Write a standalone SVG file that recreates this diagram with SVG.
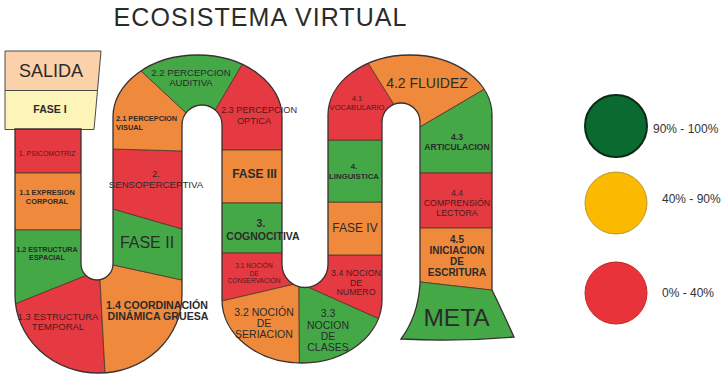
<svg xmlns="http://www.w3.org/2000/svg" width="723" height="376" viewBox="0 0 723 376">
<style>
  .r{fill:#e53a42}
  .o{fill:#ef8a3c}
  .g{fill:#44a847}
  .seg polygon{stroke:#5b3b2b;stroke-width:0.9;stroke-linejoin:round}
  text{font-family:"Liberation Sans",Arial,Helvetica,sans-serif;text-anchor:middle;fill:#2b2b2b}
  .b{font-weight:bold}
  .m{fill:#4d1b1e}
  .lg{text-anchor:start;font-size:12px;fill:#333}
</style>
<defs>
  <path id="bandShape" d="M15,129 L15,295 A83.5,78 0 0 0 182,295 L182,125 A20,20 0 0 1 222,125 L222,300 A80,63 0 0 0 382,300 L382,122 A19,19 0 0 1 420,122 L420,284 Q418,316 401,339 Q458,342 514,337 Q499,304 492,290 L492,115 A82,60 0 0 0 328,115 L328,264.5 A23,23 0 0 1 282,264.5 L282,117 A84.5,62 0 0 0 113,117 L113,264 A16,16 0 0 1 81,264 L81,129 Z"/>
  <clipPath id="band"><use href="#bandShape"/></clipPath>
</defs>
<rect width="723" height="376" fill="#ffffff"/>

<text x="260" y="26" font-size="25" fill="#1e1e1e" textLength="293">ECOSISTEMA VIRTUAL</text>

<g id="salida">
  <polygon points="5,51 101,51 97.5,90.5 5,90.5" fill="#fad1a8" stroke="#4a4a4a" stroke-width="1"/>
  <text x="51" y="77" font-size="18">SALIDA</text>
</g>
<g id="fase1">
  <polygon points="5,90.5 97.5,90.5 94,129.5 5,129.5" fill="#fdf4b8" stroke="#4a4a4a" stroke-width="1"/>
  <text x="50" y="112.5" font-size="10.5" class="b">FASE I</text>
</g>

<g id="board" class="seg">
  <g id="s1" clip-path="url(#band)"><polygon class="r" points="0,129 97,129 97,173 0,173"/></g>
  <g id="s1-1" clip-path="url(#band)"><polygon class="o" points="0,173 97,173 97,230 0,230"/></g>
  <g id="s1-2" clip-path="url(#band)"><polygon class="g" points="0,230 97,230 97,271.2 0,310"/></g>
  <g id="s1-3" clip-path="url(#band)"><polygon class="r" points="0,310 97,271.2 99.5,271 105.4,380 0,380"/></g>
  <g id="s1-4" clip-path="url(#band)"><polygon class="o" points="99.5,271 99.5,262 200,283.9 200,380 105.4,380"/></g>
  <g id="fase2" clip-path="url(#band)"><polygon class="g" points="99.5,205.1 200,234.2 200,283.9 99.5,262"/></g>
  <g id="s2" clip-path="url(#band)"><polygon class="r" points="95,148.5 200,151.5 200,234.2 99.5,205.1"/></g>
  <g id="s2-1" clip-path="url(#band)"><polygon class="o" points="95,148.5 188,151.2 188,114.7 118,49.5 95,49.5"/></g>
  <g id="s2-2" clip-path="url(#band)"><polygon class="g" points="118,49.5 188,114.7 214,112.1 258.6,36.6"/></g>
  <g id="s2-3" clip-path="url(#band)"><polygon class="r" points="214,112.1 258.6,36.6 300,36.6 300,150 205,150"/></g>
  <g id="fase3" clip-path="url(#band)"><polygon class="o" points="205,150 300,150 300,203 205,203"/></g>
  <g id="s3" clip-path="url(#band)"><polygon class="g" points="205,203 300,203 300,253 205,253"/></g>
  <g id="s3-1" clip-path="url(#band)"><polygon class="r" points="205,253 300,253 299,283 205,305"/></g>
  <g id="s3-2" clip-path="url(#band)"><polygon class="o" points="205,305 299,283 299.5,380 205,380"/></g>
  <g id="s3-3" clip-path="url(#band)"><polygon class="g" points="299,283 299.5,380 390,380 390,323.6"/></g>
  <g id="s3-4" clip-path="url(#band)"><polygon class="r" points="299,283 390,323.6 390,255 305,255"/></g>
  <g id="fase4" clip-path="url(#band)"><polygon class="o" points="305,202 390,202 390,255 305,255"/></g>
  <g id="s4" clip-path="url(#band)"><polygon class="g" points="305,140 390,140 390,202 305,202"/></g>
  <g id="s4-1" clip-path="url(#band)"><polygon class="r" points="305,140 396,140 396,107.8 360,50.2 305,50.2"/></g>
  <g id="s4-2" clip-path="url(#band)"><polygon class="o" points="360,50.2 396,107.8 414,130.5 500,80 500,40 360,40"/></g>
  <g id="s4-3" clip-path="url(#band)"><polygon class="g" points="414,130.5 500,80 500,173 405,173"/></g>
  <g id="s4-4" clip-path="url(#band)"><polygon class="r" points="405,173 500,173 500,228 405,228"/></g>
  <g id="s4-5" clip-path="url(#band)"><polygon class="o" points="405,228 500,228 500,291 405,280.3"/></g>
  <g id="meta" clip-path="url(#band)"><polygon class="g" points="405,280.3 530,294.4 530,360 395,360"/></g>
  <use href="#bandShape" fill="none" stroke="#3a3030" stroke-width="1.3"/>
</g>

<g id="labels">
  <text x="47" y="155.5" font-size="7" class="m">1. PSICOMOTRIZ</text>
  <text x="47" y="194.5" font-size="7.4" class="b">1.1 EXPRESION</text>
  <text x="47" y="203.5" font-size="7.4" class="b">CORPORAL</text>
  <text x="47" y="252" font-size="7.2" class="b">1.2 ESTRUCTURA</text>
  <text x="47" y="259.5" font-size="7.2" class="b">ESPACIAL</text>
  <text x="58" y="320" font-size="9.5" class="m">1.3 ESTRUCTURA</text>
  <text x="58" y="330" font-size="9.5" class="m">TEMPORAL</text>
  <text x="157" y="308.5" font-size="10.6" class="b">1.4 COORDINACIÓN</text>
  <text x="158" y="319.5" font-size="10.6" class="b">DINÁMICA GRUESA</text>
  <text x="147" y="248" font-size="16">FASE II</text>
  <text x="156" y="177" font-size="9.7" fill="#3a2626">2.</text>
  <text x="156" y="188" font-size="9.7" fill="#3a2626">SENSOPERCEPTIVA</text>
  <text x="116" y="121" font-size="7.4" class="b" style="text-anchor:start">2.1 PERCEPCION</text>
  <text x="116" y="130" font-size="7.4" class="b" style="text-anchor:start">VISUAL</text>
  <text x="191" y="76" font-size="9.6">2.2 PERCEPCION</text>
  <text x="191" y="86" font-size="9.6">AUDITIVA</text>
  <text x="259" y="113" font-size="9.2" class="m">2.3 PERCEPCION</text>
  <text x="254" y="124" font-size="9.2" class="m">OPTICA</text>
  <text x="254.5" y="178" font-size="12" class="b">FASE III</text>
  <text x="261" y="227" font-size="10.5" class="b">3.</text>
  <text x="263" y="240" font-size="10.5" class="b">COGNOCITIVA</text>
  <text x="254" y="268" font-size="6.6" class="m">3.1 NOCIÓN</text>
  <text x="254" y="275.5" font-size="6.6" class="m">DE</text>
  <text x="254" y="283" font-size="6.6" class="m">CONSERVACIÓN</text>
  <text x="264" y="316" font-size="10.5">3.2 NOCIÓN</text>
  <text x="264" y="327" font-size="10.5">DE</text>
  <text x="264" y="338" font-size="10.5">SERIACION</text>
  <text x="328" y="317" font-size="10.5">3.3</text>
  <text x="328" y="328.5" font-size="10.5">NOCION</text>
  <text x="328" y="340" font-size="10.5">DE</text>
  <text x="328" y="351" font-size="10.5">CLASES</text>
  <text x="356" y="276" font-size="8.8" class="m">3.4 NOCION</text>
  <text x="356" y="285.5" font-size="8.8" class="m">DE</text>
  <text x="356" y="295" font-size="8.8" class="m">NUMERO</text>
  <text x="355" y="232" font-size="12">FASE IV</text>
  <text x="354" y="169" font-size="7.8" class="b">4.</text>
  <text x="354" y="179" font-size="7.8" class="b">LINGUISTICA</text>
  <text x="357" y="101" font-size="7.6" class="m">4.1</text>
  <text x="357" y="110" font-size="7.6" class="m">VOCABULARIO</text>
  <text x="427" y="87.5" font-size="14">4.2 FLUIDEZ</text>
  <text x="457" y="140" font-size="8.6" class="b">4.3</text>
  <text x="457" y="149.5" font-size="8.6" class="b">ARTICULACION</text>
  <text x="457" y="196" font-size="8.8" class="m">4.4</text>
  <text x="457" y="206" font-size="8.8" class="m">COMPRENSIÓN</text>
  <text x="457" y="215.5" font-size="8.8" class="m">LECTORA</text>
  <text x="457" y="243" font-size="10" class="b">4.5</text>
  <text x="457" y="254" font-size="10" class="b">INICIACION</text>
  <text x="457" y="265" font-size="10" class="b">DE</text>
  <text x="457" y="275.5" font-size="10" class="b">ESCRITURA</text>
  <text x="456.5" y="326" font-size="24.5" fill="#111">META</text>
</g>

<g id="legend-green">
  <circle cx="616" cy="126" r="31" fill="#0b6a30" stroke="#0a2a12" stroke-width="2"/>
  <text class="lg" x="653" y="133">90% - 100%</text>
</g>
<g id="legend-yellow">
  <circle cx="616" cy="203" r="31" fill="#fbb900" stroke="#b89a30" stroke-width="1"/>
  <text class="lg" x="662" y="203">40% - 90%</text>
</g>
<g id="legend-red">
  <circle cx="616" cy="293" r="31" fill="#e8333a" stroke="#c42a22" stroke-width="1"/>
  <text class="lg" x="662" y="297">0% - 40%</text>
</g>
</svg>
